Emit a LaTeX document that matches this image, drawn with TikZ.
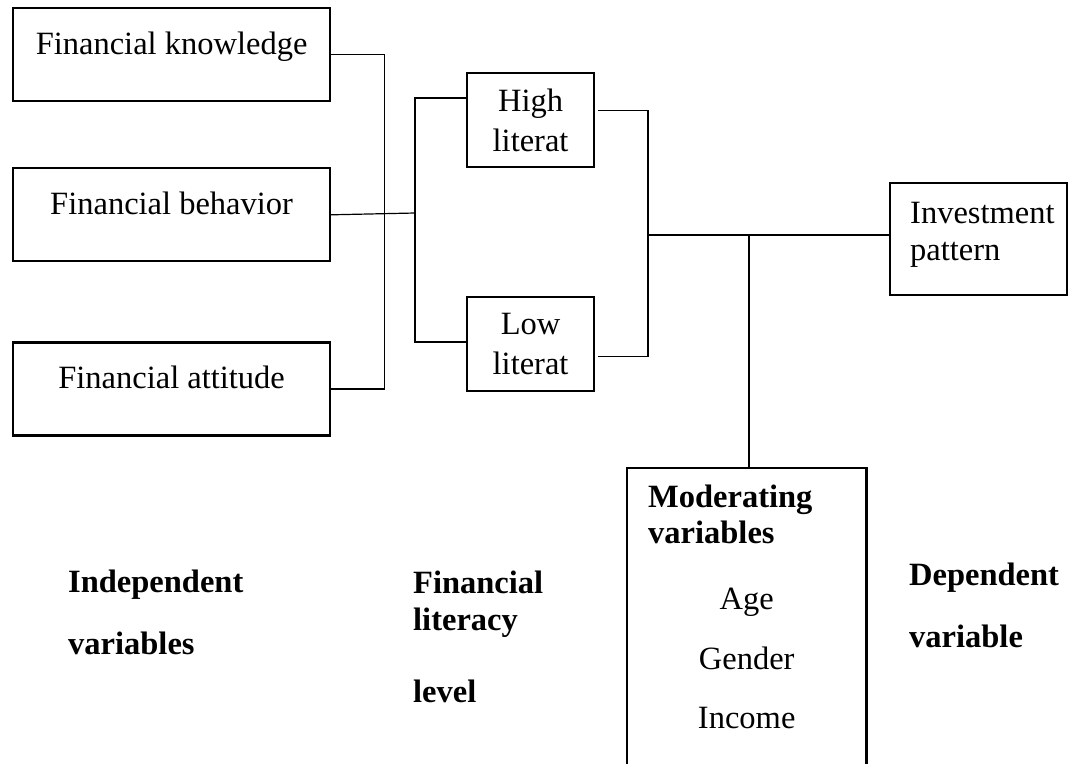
\documentclass[tikz,border=0pt]{standalone}
\usepackage{fontspec}
\setmainfont{Liberation Serif}
\usetikzlibrary{positioning,calc}

\begin{document}
\begin{tikzpicture}
  [x=1pt,y=-1pt,
   every node/.style={font=\fontsize{32.5}{37}\selectfont,inner sep=0pt},
   boxN/.style={draw,line width=2.2pt,anchor=north west},
   sideN/.style={boxN,minimum width=317pt,text height=46pt,text depth=47pt},
   litN/.style={boxN,minimum width=127pt,minimum height=94pt,align=center},
   headN/.style={anchor=base west,align=left,font=\fontsize{32.5}{37}\selectfont\bfseries},
   link/.style={line width=1.2pt}]

  \useasboundingbox (0,0) rectangle (1069,764);

  % independent variables
  \node[sideN] (knw) at (12,7) {Financial knowledge};
  \node[sideN] (beh) [below=65pt of knw] {Financial behavior};
  \node[sideN] (att) [below=79pt of beh] {Financial attitude};

  % literacy levels
  \node[litN] (high) at (466,72) {High\\[3pt]literat};
  \node[litN] (low) [below=128pt of high] {Low\\[3pt]literat};

  % dependent variable
  \node[boxN,minimum width=177pt,minimum height=112pt] (inv) at (889,182) {};
  \node[anchor=base west,align=left] (invT) at ($(inv.north west)+(21,78)$) {Investment\\pattern};

  % moderator box, open at the bottom
  \node[minimum width=239pt,minimum height=296pt,anchor=north west] (mod) at (627,468) {};
  \draw[line width=2.2pt] (mod.south west) -- (mod.north west) -- (mod.north east) -- (mod.south east);
  \node[headN] (modT) at ($(mod.north west)+(21,75)$) {Moderating\\[-1pt]variables};
  \node[anchor=base,align=center] (modL) at ($(mod.north)+(0,260)$) {Age\\[23pt]Gender\\[22pt]Income};

  % column captions (base = last line)
  \node[headN] (indep) at (68,654) {Independent\\[25pt]variables};
  \node[headN] (level) at (413,702) {Financial\\literacy\\[35pt]level};
  \node[headN] (dep) at (909,647) {Dependent\\[25pt]variable};

  \coordinate (jA) at (415,213);
  \coordinate (jH) at (415,98);
  \coordinate (jL) at (415,342);
  \coordinate (jR) at (648,235);
  \coordinate (tee) at (749,235);

  \draw[link] (knw.east) -- ++(53,0) |- (att.east);
  \draw[link] (beh.east) -- (jA);
  \draw[link] (high.west |- jH) -- (jH) -- (jL) -- (low.west |- jL);
  \draw[link] ([xshift=3pt,yshift=10pt]high.east) -| (jR) |- ([xshift=3pt,yshift=-12pt]low.east);
  \draw[link] (jR) -- (jR -| inv.west);
  \draw[link] (tee) -- (tee |- mod.north);

\end{tikzpicture}
\end{document}
